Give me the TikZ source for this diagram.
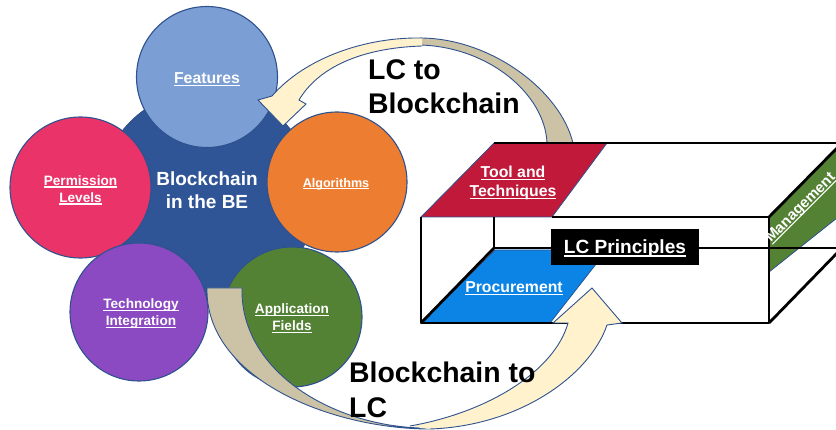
\documentclass[tikz,border=0pt]{standalone}
\usepackage{fontspec}
\setmainfont{Liberation Sans}
\usepackage{xcolor}
\usepackage{tikz}

\definecolor{cEdge}{HTML}{2F528F}
\definecolor{cBE}{HTML}{2F5597}
\definecolor{cFeat}{HTML}{7B9ED5}
\definecolor{cPerm}{HTML}{EA3469}
\definecolor{cAlg}{HTML}{ED7D31}
\definecolor{cTech}{HTML}{8B49C2}
\definecolor{cApp}{HTML}{548235}
\definecolor{cTool}{HTML}{C0193A}
\definecolor{cProc}{HTML}{0B84E6}
\definecolor{cMgmt}{HTML}{548235}
\definecolor{cCream}{HTML}{FFF2CC}
\definecolor{cTan}{HTML}{CCC3A6}

\newcommand{\fsz}[2]{\fontsize{#1}{#2}\selectfont}
\newsavebox\ulbox
\newcommand{\ulbl}[1]{\sbox\ulbox{#1}\rlap{\rule[-0.16em]{\wd\ulbox}{0.08em}}\usebox\ulbox}

\tikzset{
  bubble/.style={circle, draw=cEdge, line width=1.1pt, inner sep=0pt},
  tag/.style={text=white, align=center, inner sep=0pt, font=\bfseries},
  face/.style={draw=cEdge, line width=0.8pt},
  boxline/.style={line width=2.8pt, line join=round},
  ribbon/.style={draw=cEdge, line width=0.9pt},
  bigtext/.style={align=left, inner sep=0pt, anchor=north west}
}

\begin{document}
\begin{tikzpicture}[x=1pt, y=-1pt]
  \clip (0,0) rectangle (836,430);

  % Blockchain in the BE
  \node[bubble, fill=cBE, minimum size=216pt] (be) at (207,198) {};
  \node[tag, font=\bfseries\fsz{19}{23}] (betext) at (207,190.5) {Blockchain\\in the BE};

  % topics round the centre
  \node[bubble, fill=cFeat, minimum size=141pt] (feat) at (207,77) {};
  \node[bubble, fill=cPerm, minimum size=141pt] (perm) at (80.5,187.5) {};
  \node[bubble, fill=cAlg, minimum size=140pt] (alg) at (337,182) {};
  \node[bubble, fill=cTech, minimum size=138pt] (tech) at (139,312) {};
  \node[bubble, fill=cApp, minimum size=140pt] (app) at (292,317) {};

  \node[tag, font=\bfseries\fsz{15.8}{19}] (featlbl) at (207,79.3) {\ulbl{Features}};
  \node[tag, font=\bfseries\fsz{13.6}{17}] (permlbl) at (80.5,190) {\ulbl{Permission}\\\ulbl{Levels}};
  \node[tag, font=\bfseries\fsz{12.6}{16}] (alglbl) at (336,184) {\ulbl{Algorithms}};
  \node[tag, font=\bfseries\fsz{13.6}{17}] (techlbl) at (141,314) {\ulbl{Technology}\\\ulbl{Integration}};
  \node[tag, font=\bfseries\fsz{13.6}{17}] (applbl) at (292,318.6) {\ulbl{Application}\\\ulbl{Fields}};

  % LC to Blockchain arrow
  \draw[ribbon, fill=cTan] (420,45) .. controls (490,47) and (545,95) .. (547,143)
    -- (573,143) .. controls (560,90) and (490,38) .. (420,38);
  \draw[ribbon, fill=cCream] (422,46) .. controls (360,48) and (318,68) .. (299,100)
    -- (306,104) -- (283,126) -- (258,100) -- (272,96)
    .. controls (305,58) and (365,37) .. (422,38);

  % LC principles box
  \draw[face, fill=cTool] (421,217) -- (552,217) -- (607,143) -- (494,143) -- cycle;
  \draw[face, fill=cProc] (421,323) -- (550,323) -- (607,250) -- (495,250) -- cycle;
  \draw[face, fill=cMgmt] (769,217) -- (769,272) -- (842,214) -- (842,143) -- cycle;
  \draw[boxline] (552,217) -- (769,217) -- (769,323) -- (421,323) -- (421,217);
  \draw[boxline] (494,217) -- (494,248) -- (842,248) -- (842,143) -- (494,143);
  \draw[boxline] (421,323) -- (494,248);
  \draw[boxline] (769,217) -- (842,143);
  \draw[boxline] (769,323) -- (842,248);

  \node[tag, font=\bfseries\fsz{15.8}{19}] (tool) at (513,183.2) {\ulbl{Tool and}\\\ulbl{Techniques}};
  \node[tag, font=\bfseries\fsz{15.8}{19}] (proc) at (514,288.3) {\ulbl{Procurement}};
  \node[tag, rotate=45, font=\bfseries\fsz{15}{18}] (mgmt) at (801,208) {\ulbl{Management}};
  \node[fill=black, minimum width=148pt, minimum height=36pt, text depth=0pt, text=white,
    font=\bfseries\fsz{19.1}{23}] (lcp) at (625,247) {\ulbl{LC Principles}};

  % Blockchain to LC arrow
  \draw[ribbon, fill=cTan] (420,428) .. controls (330,425) and (240,370) .. (242,288)
    -- (207,288) .. controls (205,378) and (330,429) .. (430,429);
  \draw[ribbon, fill=cCream] (410,426) .. controls (490,412) and (555,370) .. (568,323)
    -- (553,323) -- (592,288) -- (622,323) -- (607,325)
    .. controls (590,375) and (520,426) .. (430,429);

  % arrow captions
  \node[bigtext, font=\bfseries\fsz{28.4}{33.5}] (lc2bc) at (368,59.7) {LC to\\Blockchain};
  \node[bigtext, font=\bfseries\fsz{28.4}{35}] (bc2lc) at (349,361.4) {Blockchain to\\LC};
\end{tikzpicture}
\end{document}
